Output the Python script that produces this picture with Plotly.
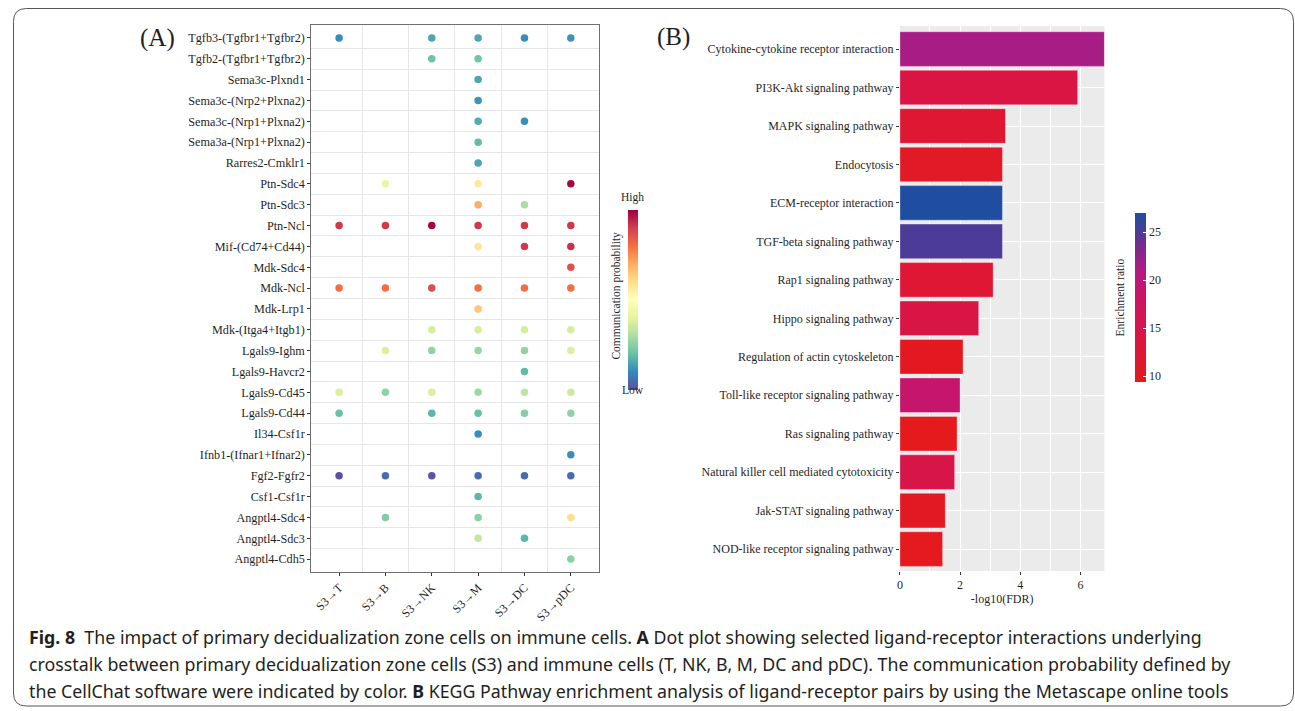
import plotly.graph_objects as go

W, H = 1295, 711

# ---------------- Panel A data ----------------
pairs = ["Tgfb3-(Tgfbr1+Tgfbr2)", "Tgfb2-(Tgfbr1+Tgfbr2)", "Sema3c-Plxnd1",
         "Sema3c-(Nrp2+Plxna2)", "Sema3c-(Nrp1+Plxna2)", "Sema3a-(Nrp1+Plxna2)",
         "Rarres2-Cmklr1", "Ptn-Sdc4", "Ptn-Sdc3", "Ptn-Ncl", "Mif-(Cd74+Cd44)",
         "Mdk-Sdc4", "Mdk-Ncl", "Mdk-Lrp1", "Mdk-(Itga4+Itgb1)", "Lgals9-Ighm",
         "Lgals9-Havcr2", "Lgals9-Cd45", "Lgals9-Cd44", "Il34-Csf1r",
         "Ifnb1-(Ifnar1+Ifnar2)", "Fgf2-Fgfr2", "Csf1-Csf1r", "Angptl4-Sdc4",
         "Angptl4-Sdc3", "Angptl4-Cdh5"]
targets = ["S3→T", "S3→B", "S3→NK", "S3→M", "S3→DC", "S3→pDC"]
N = None
prob = [
    [0.11, N, 0.15, 0.15, 0.11, 0.12],
    [N, N, 0.21, 0.21, N, N],
    [N, N, N, 0.15, N, N],
    [N, N, N, 0.12, N, N],
    [N, N, N, 0.16, 0.11, N],
    [N, N, N, 0.19, N, N],
    [N, N, N, 0.15, N, N],
    [N, 0.42, N, 0.57, N, 0.99],
    [N, N, N, 0.70, 0.30, N],
    [0.91, 0.91, 0.99, 0.91, 0.91, 0.91],
    [N, N, N, 0.58, 0.91, 0.92],
    [N, N, N, N, N, 0.86],
    [0.80, 0.80, 0.87, 0.80, 0.80, 0.80],
    [N, N, N, 0.65, N, N],
    [N, N, 0.37, 0.37, 0.37, 0.37],
    [N, 0.38, 0.26, 0.27, 0.26, 0.38],
    [N, N, N, N, 0.19, N],
    [0.38, 0.26, 0.38, 0.28, 0.33, 0.36],
    [0.20, N, 0.18, 0.20, 0.24, 0.26],
    [N, N, N, 0.11, N, N],
    [N, N, N, N, N, 0.11],
    [0.00, 0.05, 0.01, 0.05, 0.05, 0.05],
    [N, N, N, 0.18, N, N],
    [N, 0.24, N, 0.25, N, 0.60],
    [N, N, N, 0.34, 0.18, N],
    [N, N, N, N, N, 0.25],
]

# ---------------- Panel B data ----------------
pathways = ["Cytokine-cytokine receptor interaction", "PI3K-Akt signaling pathway",
            "MAPK signaling pathway", "Endocytosis", "ECM-receptor interaction",
            "TGF-beta signaling pathway", "Rap1 signaling pathway",
            "Hippo signaling pathway", "Regulation of actin cytoskeleton",
            "Toll-like receptor signaling pathway", "Ras signaling pathway",
            "Natural killer cell mediated cytotoxicity", "Jak-STAT signaling pathway",
            "NOD-like receptor signaling pathway"]
neglog_fdr = [6.8, 5.91, 3.51, 3.41, 3.41, 3.41, 3.10, 2.62, 2.10, 2.00, 1.90, 1.82, 1.51, 1.42]
enrich_ratio = [21.4, 14.2, 12.2, 10.6, 27.0, 25.0, 12.4, 14.6, 10.0, 19.0, 9.5, 14.8, 10.3, 9.6]

spectral = ["#5E4FA2", "#3288BD", "#66C2A5", "#ABDDA4", "#E6F598", "#FFFFBF",
            "#FEE08B", "#FDAE61", "#F46D43", "#D53E4F", "#9E0142"]
spec_scale = [[i / 10, c] for i, c in enumerate(spectral)]
er_scale = [[0.0, "#E41A1C"], [0.25, "#DC1540"], [0.5, "#CC1463"], [0.65, "#B51A82"],
            [0.8, "#7A2A8E"], [0.9, "#453F98"], [1.0, "#1F4EA1"]]

serif = "Liberation Serif"
txtc = "#1f1f1f"


def px_x(x):
    return x / W


def px_y(y):
    return 1 - y / H


xs, ys, vs = [], [], []
for i, row in enumerate(prob):
    for j, v in enumerate(row):
        if v is not None:
            xs.append(j)
            ys.append(i)
            vs.append(v)

fig = go.Figure()
fig.add_trace(go.Scatter(
    x=xs, y=ys, mode="markers", xaxis="x", yaxis="y", showlegend=False,
    marker=dict(size=7.5, color=vs, colorscale=spec_scale, cmin=0, cmax=1,
                line=dict(width=0),
                colorbar=dict(x=px_x(626), xanchor="left", y=px_y(300), yanchor="middle",
                              lenmode="pixels", len=180, thicknessmode="pixels", thickness=10,
                              outlinewidth=0, xpad=0, ypad=0, showticklabels=False, ticks="")),
))

fig.add_trace(go.Bar(
    x=neglog_fdr, y=list(range(len(pathways))), orientation="h", xaxis="x2", yaxis="y2",
    width=0.9, showlegend=False,
    marker=dict(color=enrich_ratio, colorscale=er_scale, cmin=9.4, cmax=27.0,
                line=dict(width=0.6, color="rgba(255,255,255,0.6)"),
                colorbar=dict(x=px_x(1135), xanchor="left", y=px_y(297.5), yanchor="middle",
                              lenmode="pixels", len=169, thicknessmode="pixels", thickness=11,
                              outlinewidth=0, xpad=0, ypad=0,
                              tickvals=[10, 15, 20, 25], ticks="inside", ticklen=3,
                              tickcolor="white", tickwidth=1,
                              tickfont=dict(family=serif, size=12, color=txtc))),
))

r = 13
x0f, y0f, x1f, y1f = 10.5, 8.5, 1293.5, 706
frame = ("M {} {} L {} {} Q {} {} {} {} L {} {} Q {} {} {} {} L {} {} Q {} {} {} {} "
         "L {} {} Q {} {} {} {} Z").format(
    px_x(x0f), px_y(y0f + r), px_x(x0f), px_y(y1f - r),
    px_x(x0f), px_y(y1f), px_x(x0f + r), px_y(y1f),
    px_x(x1f - r), px_y(y1f), px_x(x1f), px_y(y1f), px_x(x1f), px_y(y1f - r),
    px_x(x1f), px_y(y0f + r), px_x(x1f), px_y(y0f), px_x(x1f - r), px_y(y0f),
    px_x(x0f + r), px_y(y0f), px_x(x0f), px_y(y0f), px_x(x0f), px_y(y0f + r))

fig.update_layout(
    width=W, height=H, margin=dict(l=0, r=0, t=0, b=0),
    paper_bgcolor="white", plot_bgcolor="white",
    xaxis=dict(domain=[px_x(309), px_x(597)], range=[-0.6, 5.6],
               tickvals=list(range(len(targets))), ticktext=targets, tickangle=-45,
               ticks="outside", ticklen=3, tickcolor="#333", showgrid=False, zeroline=False,
               showline=True, linecolor="#6e6e6e", linewidth=1, mirror=True,
               tickfont=dict(family=serif, size=12, color=txtc),
               minor=dict(tickvals=[0.5, 1.5, 2.5, 3.5, 4.5], showgrid=True,
                          gridcolor="#E6E6E6", gridwidth=1, ticks="")),
    yaxis=dict(domain=[px_y(572), px_y(25)], range=[25.62, -0.62],
               tickvals=list(range(len(pairs))), ticktext=pairs,
               ticks="outside", ticklen=3, tickcolor="#333", showgrid=False, zeroline=False,
               showline=True, linecolor="#6e6e6e", linewidth=1, mirror=True,
               tickfont=dict(family=serif, size=12.2, color=txtc),
               minor=dict(tickvals=[i + 0.5 for i in range(len(pairs) - 1)], showgrid=True,
                          gridcolor="#E6E6E6", gridwidth=1, ticks="")),
    xaxis2=dict(domain=[px_x(899), px_x(1104)], range=[0, 6.8], anchor="y2",
                tickvals=[0, 2, 4, 6], ticks="outside", ticklen=3, tickcolor="#333",
                showgrid=True, gridcolor="white", gridwidth=1.1, zeroline=False, showline=False,
                tickfont=dict(family=serif, size=12, color=txtc),
                title=dict(text="-log10(FDR)", font=dict(family=serif, size=12, color=txtc),
                           standoff=3),
                minor=dict(dtick=1, showgrid=True, gridcolor="white", gridwidth=0.5)),
    yaxis2=dict(domain=[px_y(571), px_y(26)], range=[13.57, -0.6], anchor="x2",
                tickvals=list(range(len(pathways))), ticktext=pathways,
                ticks="outside", ticklen=3, tickcolor="#333",
                showgrid=True, gridcolor="white", gridwidth=1.1, zeroline=False, showline=False,
                tickfont=dict(family=serif, size=12, color=txtc)),
    shapes=[
        dict(type="rect", xref="x2 domain", yref="y2 domain", x0=0, x1=1, y0=0, y1=1,
             fillcolor="#EBEBEB", line=dict(width=0), layer="below"),
        dict(type="path", xref="paper", yref="paper", path=frame,
             line=dict(color="#555555", width=1), fillcolor="rgba(0,0,0,0)"),
    ],
)

ann = []


def add_text(x, y, text, size, family=serif, color=txtc, angle=0, xanchor="center", yanchor="middle"):
    ann.append(dict(x=px_x(x), y=px_y(y), xref="paper", yref="paper", text=text, showarrow=False,
                    font=dict(family=family, size=size, color=color), textangle=angle,
                    xanchor=xanchor, yanchor=yanchor))


add_text(155, 38, "(A)", 25)
add_text(672, 37, "(B)", 25)
add_text(631, 197, "High", 11.5)
add_text(631, 390, "Low", 11.5)
add_text(615, 296, "Communication probability", 11.5, angle=-90)
add_text(1120, 297, "Enrichment ratio", 11.5, angle=-90)

cap_font = "Noto Sans"
capc = "#231F20"
caption = [
    "<b>Fig. 8</b>\u00a0\u00a0The impact of primary decidualization zone cells on immune cells. <b>A</b> Dot plot showing selected ligand-receptor interactions underlying",
    "crosstalk between primary decidualization zone cells (S3) and immune cells (T, NK, B, M, DC and pDC). The communication probability defined by",
    "the CellChat software were indicated by color. <b>B</b> KEGG Pathway enrichment analysis of ligand-receptor pairs by using the Metascape online tools",
]
for k, line in enumerate(caption):
    add_text(24, 637 + k * 27, line, 17.8, family=cap_font, color=capc, xanchor="left")

fig.update_layout(annotations=ann)
fig.write_html("out.html")
